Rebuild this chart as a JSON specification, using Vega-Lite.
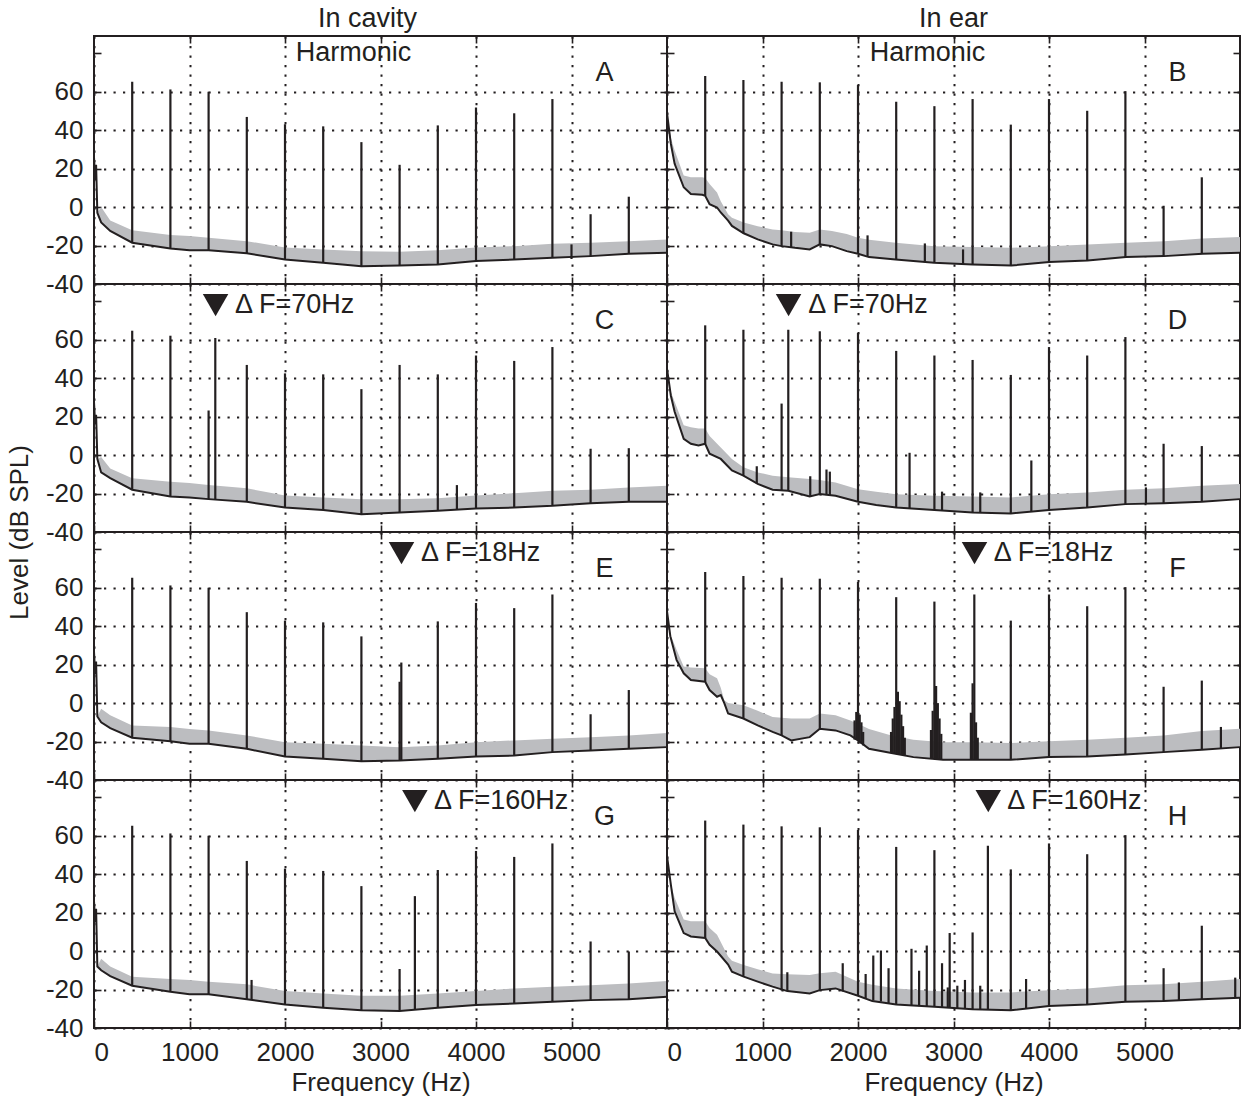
{
"$schema":"https://vega.github.io/schema/vega-lite/v6.json",
"padding":{"left":5,"top":4,"right":3,"bottom":3},
"background":"white",
"config":{
 "view":{"stroke":"#231f20","strokeWidth":2},
 "font":"Liberation Sans",
 "axis":{"labelFont":"Liberation Sans","labelFontSize":26,"labelColor":"#231f20","tickColor":"#231f20","tickWidth":1.6,"tickSize":-7,"domain":false,"labelPadding":18,"titleFont":"Liberation Sans","titleFontSize":26,"titleFontWeight":"normal","titleColor":"#231f20","gridColor":"#231f20","gridDash":[2.2,7.3],"gridWidth":2,"gridOpacity":1},
 "title":{"font":"Liberation Sans","fontSize":27,"fontWeight":"normal","color":"#231f20"}
},
"datasets":{
 "floor":[
  {"p":"A","f":0,"db":26,"hi":26},{"p":"A","f":12,"db":14,"hi":14},{"p":"A","f":22,"db":22,"hi":22},{"p":"A","f":35,"db":-3,"hi":-3},{"p":"A","f":75,"db":-8,"hi":0},{"p":"A","f":170,"db":-12.4,"hi":-7},{"p":"A","f":400,"db":-18.5,"hi":-12},{"p":"A","f":800,"db":-21.5,"hi":-14.5},{"p":"A","f":1000,"db":-22.5,"hi":-15},{"p":"A","f":1200,"db":-22.5,"hi":-16},{"p":"A","f":1600,"db":-24,"hi":-17.7},{"p":"A","f":2000,"db":-27.3,"hi":-21},{"p":"A","f":2400,"db":-29,"hi":-22},{"p":"A","f":2800,"db":-30.8,"hi":-22.9},{"p":"A","f":3200,"db":-30.4,"hi":-23.2},{"p":"A","f":3600,"db":-29.9,"hi":-22.5},{"p":"A","f":4000,"db":-28.1,"hi":-21},{"p":"A","f":4400,"db":-27.3,"hi":-20.3},{"p":"A","f":4800,"db":-26.4,"hi":-19},{"p":"A","f":5200,"db":-25.5,"hi":-18.5},{"p":"A","f":5600,"db":-24.3,"hi":-17.7},{"p":"A","f":6000,"db":-23.8,"hi":-16.8},
  {"p":"B","f":0,"db":49,"hi":49},{"p":"B","f":40,"db":33,"hi":36},{"p":"B","f":80,"db":22.5,"hi":29.5},{"p":"B","f":175,"db":10.3,"hi":16.4},{"p":"B","f":250,"db":6.8,"hi":15.5},{"p":"B","f":370,"db":6.4,"hi":15.5},{"p":"B","f":400,"db":5.9,"hi":15.2},{"p":"B","f":446,"db":1.5,"hi":12},{"p":"B","f":524,"db":-0.2,"hi":7.6},{"p":"B","f":563,"db":-2.8,"hi":3},{"p":"B","f":640,"db":-7,"hi":-3.7},{"p":"B","f":680,"db":-9.8,"hi":-5.5},{"p":"B","f":803,"db":-13.6,"hi":-8},{"p":"B","f":950,"db":-16.8,"hi":-10},{"p":"B","f":1106,"db":-19.4,"hi":-11.6},{"p":"B","f":1200,"db":-20.3,"hi":-12},{"p":"B","f":1340,"db":-21.2,"hi":-13},{"p":"B","f":1494,"db":-22,"hi":-13.3},{"p":"B","f":1600,"db":-19.4,"hi":-11.6},{"p":"B","f":1727,"db":-20.3,"hi":-12.4},{"p":"B","f":1882,"db":-22.9,"hi":-14},{"p":"B","f":2000,"db":-24.3,"hi":-16},{"p":"B","f":2115,"db":-26,"hi":-17},{"p":"B","f":2394,"db":-27.3,"hi":-18.5},{"p":"B","f":2797,"db":-29,"hi":-20.3},{"p":"B","f":3200,"db":-29.9,"hi":-20.8},{"p":"B","f":3605,"db":-30.4,"hi":-21.2},{"p":"B","f":4004,"db":-28.5,"hi":-20.3},{"p":"B","f":4404,"db":-27.8,"hi":-19.4},{"p":"B","f":4807,"db":-26,"hi":-18.5},{"p":"B","f":5207,"db":-25.5,"hi":-17.7},{"p":"B","f":5607,"db":-24.3,"hi":-16.3},{"p":"B","f":6000,"db":-23.8,"hi":-15.6},
  {"p":"C","f":0,"db":27.7,"hi":27.7},{"p":"C","f":12,"db":16,"hi":16},{"p":"C","f":22,"db":21,"hi":21},{"p":"C","f":35,"db":-2,"hi":-2},{"p":"C","f":75,"db":-9,"hi":-1},{"p":"C","f":170,"db":-12,"hi":-7},{"p":"C","f":400,"db":-18,"hi":-12},{"p":"C","f":800,"db":-21.5,"hi":-13.8},{"p":"C","f":1000,"db":-22,"hi":-14.5},{"p":"C","f":1200,"db":-22.9,"hi":-15.5},{"p":"C","f":1600,"db":-24.3,"hi":-17.3},{"p":"C","f":2000,"db":-27.3,"hi":-21},{"p":"C","f":2400,"db":-28.5,"hi":-22},{"p":"C","f":2800,"db":-30.8,"hi":-22.9},{"p":"C","f":3200,"db":-29.9,"hi":-22.9},{"p":"C","f":3600,"db":-29,"hi":-22.5},{"p":"C","f":4000,"db":-27.8,"hi":-21},{"p":"C","f":4400,"db":-27.3,"hi":-19.8},{"p":"C","f":4800,"db":-26.4,"hi":-18.5},{"p":"C","f":5200,"db":-25,"hi":-18},{"p":"C","f":5600,"db":-24.3,"hi":-16.8},{"p":"C","f":6000,"db":-24.3,"hi":-16},
  {"p":"D","f":0,"db":45,"hi":45},{"p":"D","f":40,"db":31,"hi":33},{"p":"D","f":80,"db":22.5,"hi":27.7},{"p":"D","f":175,"db":8.5,"hi":15.5},{"p":"D","f":250,"db":5.9,"hi":14.5},{"p":"D","f":330,"db":5,"hi":13.8},{"p":"D","f":400,"db":5.9,"hi":13.8},{"p":"D","f":446,"db":0.7,"hi":10},{"p":"D","f":563,"db":-2,"hi":4},{"p":"D","f":680,"db":-8,"hi":-2},{"p":"D","f":800,"db":-10.7,"hi":-6.3},{"p":"D","f":950,"db":-15,"hi":-9},{"p":"D","f":1106,"db":-18,"hi":-10.7},{"p":"D","f":1270,"db":-18.5,"hi":-11.5},{"p":"D","f":1494,"db":-21.5,"hi":-12.4},{"p":"D","f":1600,"db":-20.3,"hi":-13},{"p":"D","f":1765,"db":-21.2,"hi":-14.2},{"p":"D","f":2000,"db":-24.3,"hi":-17.7},{"p":"D","f":2190,"db":-26,"hi":-19},{"p":"D","f":2400,"db":-27.3,"hi":-20.3},{"p":"D","f":2800,"db":-28.5,"hi":-21.2},{"p":"D","f":3200,"db":-29.9,"hi":-21.5},{"p":"D","f":3600,"db":-30.4,"hi":-22},{"p":"D","f":4000,"db":-28.5,"hi":-20.3},{"p":"D","f":4400,"db":-27.3,"hi":-19.4},{"p":"D","f":4800,"db":-25.5,"hi":-18},{"p":"D","f":5200,"db":-25,"hi":-17.3},{"p":"D","f":5600,"db":-24.3,"hi":-16},{"p":"D","f":6000,"db":-22.9,"hi":-15},
  {"p":"E","f":0,"db":26.8,"hi":26.8},{"p":"E","f":12,"db":15,"hi":15},{"p":"E","f":22,"db":21.6,"hi":21.6},{"p":"E","f":35,"db":-7,"hi":-7},{"p":"E","f":75,"db":-10,"hi":-3},{"p":"E","f":170,"db":-13,"hi":-6.3},{"p":"E","f":400,"db":-18,"hi":-11.6},{"p":"E","f":800,"db":-19.8,"hi":-12.4},{"p":"E","f":1000,"db":-21.2,"hi":-13.5},{"p":"E","f":1200,"db":-21.2,"hi":-14.2},{"p":"E","f":1600,"db":-23.8,"hi":-16.8},{"p":"E","f":2000,"db":-27.8,"hi":-20.3},{"p":"E","f":2400,"db":-29,"hi":-21.2},{"p":"E","f":2800,"db":-30.2,"hi":-22},{"p":"E","f":3200,"db":-29.9,"hi":-22.9},{"p":"E","f":3600,"db":-29,"hi":-22},{"p":"E","f":4000,"db":-27.8,"hi":-20.3},{"p":"E","f":4400,"db":-27.3,"hi":-19.4},{"p":"E","f":4800,"db":-25.5,"hi":-18.5},{"p":"E","f":5200,"db":-24.6,"hi":-17.7},{"p":"E","f":5600,"db":-23.8,"hi":-16.8},{"p":"E","f":6000,"db":-22.9,"hi":-15.6},
  {"p":"F","f":0,"db":47.8,"hi":47.8},{"p":"F","f":35,"db":34.7,"hi":36},{"p":"F","f":100,"db":22.5,"hi":27.7},{"p":"F","f":175,"db":15.5,"hi":19},{"p":"F","f":250,"db":12,"hi":18.5},{"p":"F","f":400,"db":11.1,"hi":18.1},{"p":"F","f":446,"db":6.8,"hi":15},{"p":"F","f":524,"db":3.3,"hi":12.9},{"p":"F","f":563,"db":4.2,"hi":8},{"p":"F","f":600,"db":0,"hi":1.5},{"p":"F","f":640,"db":-5.4,"hi":0},{"p":"F","f":800,"db":-8,"hi":-1.1},{"p":"F","f":950,"db":-11.6,"hi":-4},{"p":"F","f":1106,"db":-15,"hi":-7.2},{"p":"F","f":1200,"db":-16.8,"hi":-7.6},{"p":"F","f":1300,"db":-19.4,"hi":-8},{"p":"F","f":1494,"db":-17.7,"hi":-8},{"p":"F","f":1600,"db":-13.3,"hi":-5.4},{"p":"F","f":1765,"db":-14.2,"hi":-6.3},{"p":"F","f":1920,"db":-16.8,"hi":-9},{"p":"F","f":2000,"db":-19.4,"hi":-10.7},{"p":"F","f":2115,"db":-23.8,"hi":-13.5},{"p":"F","f":2350,"db":-26,"hi":-16.8},{"p":"F","f":2580,"db":-28.1,"hi":-19},{"p":"F","f":2890,"db":-29.5,"hi":-20.3},{"p":"F","f":3200,"db":-29.5,"hi":-20.3},{"p":"F","f":3600,"db":-29.5,"hi":-20.8},{"p":"F","f":4000,"db":-28.1,"hi":-19.8},{"p":"F","f":4400,"db":-27.8,"hi":-19},{"p":"F","f":4800,"db":-26.7,"hi":-18},{"p":"F","f":5200,"db":-25.5,"hi":-16.8},{"p":"F","f":5600,"db":-24.3,"hi":-14.5},{"p":"F","f":6000,"db":-22.9,"hi":-13.3},
  {"p":"G","f":0,"db":26,"hi":26},{"p":"G","f":12,"db":15,"hi":15},{"p":"G","f":22,"db":22,"hi":22},{"p":"G","f":35,"db":-8,"hi":-8},{"p":"G","f":75,"db":-10,"hi":-4},{"p":"G","f":170,"db":-13,"hi":-8},{"p":"G","f":400,"db":-18,"hi":-13.3},{"p":"G","f":800,"db":-21.2,"hi":-14.5},{"p":"G","f":1000,"db":-22.5,"hi":-15},{"p":"G","f":1200,"db":-22.5,"hi":-16},{"p":"G","f":1600,"db":-25,"hi":-17.3},{"p":"G","f":2000,"db":-27.8,"hi":-20.8},{"p":"G","f":2400,"db":-29.5,"hi":-22},{"p":"G","f":2800,"db":-30.8,"hi":-23.2},{"p":"G","f":3200,"db":-31.1,"hi":-23.2},{"p":"G","f":3600,"db":-29.5,"hi":-22},{"p":"G","f":4000,"db":-28.1,"hi":-20.8},{"p":"G","f":4400,"db":-27.3,"hi":-19.4},{"p":"G","f":4800,"db":-26.4,"hi":-18.5},{"p":"G","f":5200,"db":-25.5,"hi":-17.7},{"p":"G","f":5600,"db":-25,"hi":-16.8},{"p":"G","f":6000,"db":-23.8,"hi":-15.6},
  {"p":"H","f":0,"db":49.5,"hi":49.5},{"p":"H","f":40,"db":34.7,"hi":35},{"p":"H","f":80,"db":20.7,"hi":27.7},{"p":"H","f":175,"db":9.4,"hi":16.4},{"p":"H","f":250,"db":7.6,"hi":15.5},{"p":"H","f":400,"db":6.8,"hi":15.5},{"p":"H","f":446,"db":3.3,"hi":12},{"p":"H","f":524,"db":-0.2,"hi":8.5},{"p":"H","f":640,"db":-7,"hi":-2.8},{"p":"H","f":680,"db":-10.7,"hi":-5},{"p":"H","f":803,"db":-13.3,"hi":-7.2},{"p":"H","f":950,"db":-15.9,"hi":-9.5},{"p":"H","f":1106,"db":-18.5,"hi":-11.6},{"p":"H","f":1260,"db":-20.8,"hi":-12},{"p":"H","f":1494,"db":-22,"hi":-12.4},{"p":"H","f":1600,"db":-20.3,"hi":-11.5},{"p":"H","f":1765,"db":-19.4,"hi":-10.7},{"p":"H","f":2000,"db":-23.2,"hi":-16},{"p":"H","f":2150,"db":-26,"hi":-17.5},{"p":"H","f":2400,"db":-27.8,"hi":-19.4},{"p":"H","f":2800,"db":-29,"hi":-20.8},{"p":"H","f":3200,"db":-30.2,"hi":-21.5},{"p":"H","f":3600,"db":-30.8,"hi":-21.5},{"p":"H","f":4000,"db":-28.5,"hi":-20.3},{"p":"H","f":4400,"db":-27.8,"hi":-19.4},{"p":"H","f":4800,"db":-26.4,"hi":-17.7},{"p":"H","f":5200,"db":-26,"hi":-17.3},{"p":"H","f":5600,"db":-25,"hi":-16},{"p":"H","f":6000,"db":-24.3,"hi":-14.5}
 ],
 "spikes":[
  {"p":"A","f":400,"db":65.2,"base":-18.5},{"p":"A","f":800,"db":61.2,"base":-21.5},{"p":"A","f":1200,"db":60,"base":-22.5},{"p":"A","f":1600,"db":46.9,"base":-24},{"p":"A","f":2000,"db":43.1,"base":-27.3},{"p":"A","f":2400,"db":42,"base":-29},{"p":"A","f":2800,"db":33.8,"base":-30.8},{"p":"A","f":3200,"db":22,"base":-30.4},{"p":"A","f":3600,"db":42.5,"base":-29.9},{"p":"A","f":4000,"db":51.8,"base":-28.1},{"p":"A","f":4400,"db":48.8,"base":-27.3},{"p":"A","f":4800,"db":56.2,"base":-26.4},{"p":"A","f":5000,"db":-19.4,"base":-27},{"p":"A","f":5200,"db":-3.7,"base":-25.5},{"p":"A","f":5600,"db":5.4,"base":-24.3},
  {"p":"B","f":400,"db":68.2,"base":5.9},{"p":"B","f":800,"db":66.1,"base":-13.6},{"p":"B","f":1200,"db":65.2,"base":-20.3},{"p":"B","f":1300,"db":-12.8,"base":-21},{"p":"B","f":1600,"db":64.9,"base":-19.4},{"p":"B","f":2000,"db":63.5,"base":-24.3},{"p":"B","f":2100,"db":-14.7,"base":-25.8},{"p":"B","f":2400,"db":54.8,"base":-27.3},{"p":"B","f":2700,"db":-18.9,"base":-28.6},{"p":"B","f":2800,"db":52.5,"base":-29},{"p":"B","f":3100,"db":-22,"base":-29.8},{"p":"B","f":3200,"db":56.2,"base":-29.9},{"p":"B","f":3600,"db":42.9,"base":-30.4},{"p":"B","f":4000,"db":56.2,"base":-28.5},{"p":"B","f":4400,"db":50.1,"base":-27.8},{"p":"B","f":4800,"db":60.3,"base":-26},{"p":"B","f":5200,"db":0.7,"base":-25.5},{"p":"B","f":5600,"db":15.5,"base":-24.3},
  {"p":"C","f":400,"db":64.7,"base":-18},{"p":"C","f":800,"db":62.1,"base":-21.5},{"p":"C","f":1200,"db":23.2,"base":-22.9},{"p":"C","f":1270,"db":60.9,"base":-23},{"p":"C","f":1600,"db":46.9,"base":-24.3},{"p":"C","f":2000,"db":42.5,"base":-27.3},{"p":"C","f":2400,"db":42,"base":-28.5},{"p":"C","f":2800,"db":34.3,"base":-30.8},{"p":"C","f":3200,"db":46.9,"base":-29.9},{"p":"C","f":3600,"db":42,"base":-29},{"p":"C","f":3800,"db":-15.6,"base":-28.5},{"p":"C","f":4000,"db":51.8,"base":-27.8},{"p":"C","f":4400,"db":49,"base":-27.3},{"p":"C","f":4800,"db":56.2,"base":-26.4},{"p":"C","f":5200,"db":3.3,"base":-25},{"p":"C","f":5600,"db":3.6,"base":-24.3},
  {"p":"D","f":400,"db":67.5,"base":5.9},{"p":"D","f":800,"db":65.2,"base":-10.7},{"p":"D","f":940,"db":-5.8,"base":-14.8},{"p":"D","f":1200,"db":26.8,"base":-18.3},{"p":"D","f":1270,"db":65.2,"base":-18.5},{"p":"D","f":1500,"db":-11,"base":-21.5},{"p":"D","f":1600,"db":64.4,"base":-20.3},{"p":"D","f":1670,"db":-7.5,"base":-20.8},{"p":"D","f":1705,"db":-8.6,"base":-21},{"p":"D","f":2000,"db":63.5,"base":-24.3},{"p":"D","f":2400,"db":54.2,"base":-27.3},{"p":"D","f":2540,"db":1.2,"base":-27.6},{"p":"D","f":2800,"db":51.8,"base":-28.5},{"p":"D","f":2880,"db":-19,"base":-28.7},{"p":"D","f":3200,"db":49.5,"base":-29.9},{"p":"D","f":3280,"db":-19.4,"base":-30},{"p":"D","f":3600,"db":41.7,"base":-30.4},{"p":"D","f":3815,"db":-2.8,"base":-29.5},{"p":"D","f":4000,"db":56.2,"base":-28.5},{"p":"D","f":4400,"db":51.8,"base":-27.3},{"p":"D","f":4800,"db":61.4,"base":-25.5},{"p":"D","f":5015,"db":-16.8,"base":-25.3},{"p":"D","f":5200,"db":5.9,"base":-25},{"p":"D","f":5600,"db":4.7,"base":-24.3},
  {"p":"E","f":400,"db":65.2,"base":-18},{"p":"E","f":800,"db":61.2,"base":-19.8},{"p":"E","f":1200,"db":60,"base":-21.2},{"p":"E","f":1600,"db":47.3,"base":-23.8},{"p":"E","f":2000,"db":42.9,"base":-27.8},{"p":"E","f":2400,"db":42,"base":-29},{"p":"E","f":2800,"db":34.7,"base":-30.2},{"p":"E","f":3200,"db":11.1,"base":-29.9},{"p":"E","f":3218,"db":21.1,"base":-29.9},{"p":"E","f":3600,"db":42.5,"base":-29},{"p":"E","f":4000,"db":52.1,"base":-27.8},{"p":"E","f":4400,"db":49.4,"base":-27.3},{"p":"E","f":4800,"db":56.5,"base":-25.5},{"p":"E","f":5200,"db":-5.8,"base":-24.6},{"p":"E","f":5600,"db":6.8,"base":-23.8},
  {"p":"F","f":400,"db":68.2,"base":11.1},{"p":"F","f":800,"db":66.1,"base":-8},{"p":"F","f":1200,"db":65.2,"base":-16.8},{"p":"F","f":1600,"db":64.7,"base":-13.3},{"p":"F","f":1964,"db":-9,"base":-19},{"p":"F","f":1982,"db":-4.6,"base":-19.2},{"p":"F","f":2000,"db":63,"base":-19.4},{"p":"F","f":2018,"db":-6,"base":-20},{"p":"F","f":2036,"db":-10,"base":-21},{"p":"F","f":2054,"db":-15,"base":-22},{"p":"F","f":2346,"db":-15,"base":-26},{"p":"F","f":2364,"db":-8,"base":-26.2},{"p":"F","f":2382,"db":-2,"base":-26.4},{"p":"F","f":2400,"db":55.1,"base":-26.5},{"p":"F","f":2418,"db":5.9,"base":-26.7},{"p":"F","f":2436,"db":1,"base":-26.9},{"p":"F","f":2454,"db":-6,"base":-27},{"p":"F","f":2472,"db":-12,"base":-27.2},{"p":"F","f":2490,"db":-18,"base":-27.4},{"p":"F","f":2764,"db":-14,"base":-28.9},{"p":"F","f":2782,"db":-4,"base":-29},{"p":"F","f":2800,"db":52.8,"base":-29},{"p":"F","f":2818,"db":8.9,"base":-29.1},{"p":"F","f":2836,"db":0,"base":-29.2},{"p":"F","f":2854,"db":-8,"base":-29.3},{"p":"F","f":2872,"db":-16,"base":-29.4},{"p":"F","f":3182,"db":-5,"base":-29.5},{"p":"F","f":3200,"db":10.3,"base":-29.5},{"p":"F","f":3218,"db":56.5,"base":-29.5},{"p":"F","f":3236,"db":-10,"base":-29.5},{"p":"F","f":3254,"db":-18,"base":-29.5},{"p":"F","f":3600,"db":42.9,"base":-29.5},{"p":"F","f":4000,"db":56.5,"base":-28.1},{"p":"F","f":4400,"db":50.4,"base":-27.8},{"p":"F","f":4800,"db":60.3,"base":-26.7},{"p":"F","f":5200,"db":8.5,"base":-25.5},{"p":"F","f":5600,"db":11.7,"base":-24.3},{"p":"F","f":5800,"db":-12.4,"base":-23.6},
  {"p":"G","f":400,"db":65.2,"base":-18},{"p":"G","f":800,"db":61.2,"base":-21.2},{"p":"G","f":1200,"db":60,"base":-22.5},{"p":"G","f":1600,"db":46.9,"base":-25},{"p":"G","f":1650,"db":-15,"base":-25.2},{"p":"G","f":2000,"db":42.9,"base":-27.8},{"p":"G","f":2400,"db":41.7,"base":-29.5},{"p":"G","f":2800,"db":33.8,"base":-30.8},{"p":"G","f":3200,"db":-9.3,"base":-31.1},{"p":"G","f":3360,"db":28.6,"base":-30.6},{"p":"G","f":3600,"db":42.2,"base":-29.5},{"p":"G","f":4000,"db":52.1,"base":-28.1},{"p":"G","f":4400,"db":49,"base":-27.3},{"p":"G","f":4800,"db":56,"base":-26.4},{"p":"G","f":5200,"db":5,"base":-25.5},{"p":"G","f":5600,"db":-0.2,"base":-25},
  {"p":"H","f":400,"db":67.9,"base":6.8},{"p":"H","f":800,"db":65.8,"base":-13.3},{"p":"H","f":1200,"db":64.9,"base":-20.5},{"p":"H","f":1260,"db":-11,"base":-20.8},{"p":"H","f":1600,"db":64.4,"base":-20.3},{"p":"H","f":1840,"db":-6.3,"base":-21},{"p":"H","f":2000,"db":63,"base":-23.2},{"p":"H","f":2080,"db":-11.9,"base":-24.5},{"p":"H","f":2160,"db":-2.3,"base":-25.5},{"p":"H","f":2240,"db":0.3,"base":-26.2},{"p":"H","f":2320,"db":-8.9,"base":-27},{"p":"H","f":2400,"db":54.2,"base":-27.8},{"p":"H","f":2560,"db":1.2,"base":-28.3},{"p":"H","f":2640,"db":-10.2,"base":-28.6},{"p":"H","f":2720,"db":2.9,"base":-28.8},{"p":"H","f":2800,"db":52.5,"base":-29},{"p":"H","f":2880,"db":-6.3,"base":-29.3},{"p":"H","f":2940,"db":-18.9,"base":-29.5},{"p":"H","f":2960,"db":9.4,"base":-29.6},{"p":"H","f":3040,"db":-18,"base":-29.8},{"p":"H","f":3120,"db":-15,"base":-30},{"p":"H","f":3200,"db":9.7,"base":-30.2},{"p":"H","f":3280,"db":-18,"base":-30.4},{"p":"H","f":3360,"db":54.8,"base":-30.5},{"p":"H","f":3600,"db":42.5,"base":-30.8},{"p":"H","f":3760,"db":-14.5,"base":-30},{"p":"H","f":4000,"db":56,"base":-28.5},{"p":"H","f":4400,"db":50.4,"base":-27.8},{"p":"H","f":4800,"db":60.3,"base":-26.4},{"p":"H","f":5200,"db":-8.9,"base":-26},{"p":"H","f":5360,"db":-16.3,"base":-25.6},{"p":"H","f":5600,"db":13.2,"base":-25},{"p":"H","f":5950,"db":-13.8,"base":-24.4}
 ],
 "notes":[
  {"p":"A","f":2717,"db":80,"txt":"Harmonic"},{"p":"B","f":2727,"db":80,"txt":"Harmonic"},
  {"p":"A","f":5345,"db":70,"txt":"A"},{"p":"B","f":5345,"db":70,"txt":"B"},{"p":"C","f":5345,"db":70,"txt":"C"},{"p":"D","f":5345,"db":70,"txt":"D"},{"p":"E","f":5345,"db":70,"txt":"E"},{"p":"F","f":5345,"db":70,"txt":"F"},{"p":"G","f":5345,"db":70,"txt":"G"},{"p":"H","f":5345,"db":70,"txt":"H"}
 ],
 "shift":[
  {"p":"C","f":1273,"tf":1476,"db":78,"txt":"Δ F=70Hz"},{"p":"D","f":1273,"tf":1480,"db":78,"txt":"Δ F=70Hz"},
  {"p":"E","f":3220,"tf":3423,"db":78,"txt":"Δ F=18Hz"},{"p":"F","f":3220,"tf":3422,"db":78,"txt":"Δ F=18Hz"},
  {"p":"G","f":3360,"tf":3559,"db":78,"txt":"Δ F=160Hz"},{"p":"H","f":3364,"tf":3562,"db":78,"txt":"Δ F=160Hz"}
 ]
},
"columns":2,
"spacing":0,
"bounds":"flush",
"concat":[
  {"width":573,"height":248,"title":{"text":"In cavity","dx":-13,"offset":2},
   "layer":[
    {"data":{"name":"floor"},"transform":[{"filter":"datum.p==='A'"}],"mark":{"type":"area","color":"#bcbdc0"},"encoding":{"x":{"field":"f","type":"quantitative","scale":{"domain":[0,6000],"nice":false,"zero":false},"axis":{"orient":"bottom","values":[0,1000,2000,3000,4000,5000],"grid":true,"labels":false,"title":null}},"y":{"field":"db","type":"quantitative","scale":{"domain":[-40,89],"nice":false,"zero":false},"axis":{"orient":"left","values":[-40,-20,0,20,40,60,80],"grid":true,"gridOpacity":{"condition":{"test":"datum.value>=80","value":0},"value":1},"labelExpr":"datum.value>=80?'':''+datum.value","title":null}},"y2":{"field":"hi"}}},
    {"data":{"name":"floor"},"transform":[{"filter":"datum.p==='A'"}],"mark":{"type":"line","color":"#231f20","strokeWidth":2},"encoding":{"x":{"field":"f","type":"quantitative","axis":{"orient":"top","values":[1000,2000,3000,4000,5000],"grid":false,"labels":false,"title":null}},"y":{"field":"db","type":"quantitative","axis":{"orient":"right","values":[-20,0,20,40,60,80],"grid":false,"labels":false,"title":null}}}},
    {"data":{"name":"spikes"},"transform":[{"filter":"datum.p==='A'"}],"mark":{"type":"rule","color":"#231f20","strokeWidth":2.2},"encoding":{"x":{"field":"f","type":"quantitative","axis":null},"y":{"field":"db","type":"quantitative","axis":null},"y2":{"field":"base"}}},
    {"data":{"name":"notes"},"transform":[{"filter":"datum.p==='A'"}],"mark":{"type":"text","fontSize":27,"color":"#231f20","baseline":"middle"},"encoding":{"x":{"field":"f","type":"quantitative","axis":null},"y":{"field":"db","type":"quantitative","axis":null},"text":{"field":"txt"}}}
   ],
   "resolve":{"axis":{"x":"independent","y":"independent"}}},
  {"width":573,"height":248,"title":{"text":"In ear","offset":2},
   "layer":[
    {"data":{"name":"floor"},"transform":[{"filter":"datum.p==='B'"}],"mark":{"type":"area","color":"#bcbdc0"},"encoding":{"x":{"field":"f","type":"quantitative","scale":{"domain":[0,6000],"nice":false,"zero":false},"axis":{"orient":"bottom","values":[0,1000,2000,3000,4000,5000],"grid":true,"labels":false,"title":null}},"y":{"field":"db","type":"quantitative","scale":{"domain":[-40,89],"nice":false,"zero":false},"axis":{"orient":"left","values":[-40,-20,0,20,40,60,80],"grid":true,"gridOpacity":{"condition":{"test":"datum.value>=80","value":0},"value":1},"labels":false,"title":null}},"y2":{"field":"hi"}}},
    {"data":{"name":"floor"},"transform":[{"filter":"datum.p==='B'"}],"mark":{"type":"line","color":"#231f20","strokeWidth":2},"encoding":{"x":{"field":"f","type":"quantitative","axis":{"orient":"top","values":[1000,2000,3000,4000,5000],"grid":false,"labels":false,"title":null}},"y":{"field":"db","type":"quantitative","axis":{"orient":"right","values":[-20,0,20,40,60,80],"grid":false,"labels":false,"title":null}}}},
    {"data":{"name":"spikes"},"transform":[{"filter":"datum.p==='B'"}],"mark":{"type":"rule","color":"#231f20","strokeWidth":2.2},"encoding":{"x":{"field":"f","type":"quantitative","axis":null},"y":{"field":"db","type":"quantitative","axis":null},"y2":{"field":"base"}}},
    {"data":{"name":"notes"},"transform":[{"filter":"datum.p==='B'"}],"mark":{"type":"text","fontSize":27,"color":"#231f20","baseline":"middle"},"encoding":{"x":{"field":"f","type":"quantitative","axis":null},"y":{"field":"db","type":"quantitative","axis":null},"text":{"field":"txt"}}}
   ],
   "resolve":{"axis":{"x":"independent","y":"independent"}}},
  {"width":573,"height":248,
   "layer":[
    {"data":{"name":"floor"},"transform":[{"filter":"datum.p==='C'"}],"mark":{"type":"area","color":"#bcbdc0"},"encoding":{"x":{"field":"f","type":"quantitative","scale":{"domain":[0,6000],"nice":false,"zero":false},"axis":{"orient":"bottom","values":[0,1000,2000,3000,4000,5000],"grid":true,"labels":false,"title":null}},"y":{"field":"db","type":"quantitative","scale":{"domain":[-40,89],"nice":false,"zero":false},"axis":{"orient":"left","values":[-40,-20,0,20,40,60,80],"grid":true,"gridOpacity":{"condition":{"test":"datum.value>=80","value":0},"value":1},"labelExpr":"datum.value>=80?'':''+datum.value","title":"Level (dB SPL)","titleX":-62,"titleY":248}},"y2":{"field":"hi"}}},
    {"data":{"name":"floor"},"transform":[{"filter":"datum.p==='C'"}],"mark":{"type":"line","color":"#231f20","strokeWidth":2},"encoding":{"x":{"field":"f","type":"quantitative","axis":{"orient":"top","values":[1000,2000,3000,4000,5000],"grid":false,"labels":false,"title":null}},"y":{"field":"db","type":"quantitative","axis":{"orient":"right","values":[-20,0,20,40,60,80],"grid":false,"labels":false,"title":null}}}},
    {"data":{"name":"spikes"},"transform":[{"filter":"datum.p==='C'"}],"mark":{"type":"rule","color":"#231f20","strokeWidth":2.2},"encoding":{"x":{"field":"f","type":"quantitative","axis":null},"y":{"field":"db","type":"quantitative","axis":null},"y2":{"field":"base"}}},
    {"data":{"name":"notes"},"transform":[{"filter":"datum.p==='C'"}],"mark":{"type":"text","fontSize":27,"color":"#231f20","baseline":"middle"},"encoding":{"x":{"field":"f","type":"quantitative","axis":null},"y":{"field":"db","type":"quantitative","axis":null},"text":{"field":"txt"}}},
    {"data":{"name":"shift"},"transform":[{"filter":"datum.p==='C'"}],"mark":{"type":"point","shape":"triangle-down","filled":true,"size":650,"color":"#231f20","opacity":1},"encoding":{"x":{"field":"f","type":"quantitative","axis":null},"y":{"field":"db","type":"quantitative","axis":null}}},
    {"data":{"name":"shift"},"transform":[{"filter":"datum.p==='C'"}],"mark":{"type":"text","fontSize":27,"color":"#231f20","align":"left","baseline":"middle"},"encoding":{"x":{"field":"tf","type":"quantitative","axis":null},"y":{"field":"db","type":"quantitative","axis":null},"text":{"field":"txt"}}}
   ],
   "resolve":{"axis":{"x":"independent","y":"independent"}}},
  {"width":573,"height":248,
   "layer":[
    {"data":{"name":"floor"},"transform":[{"filter":"datum.p==='D'"}],"mark":{"type":"area","color":"#bcbdc0"},"encoding":{"x":{"field":"f","type":"quantitative","scale":{"domain":[0,6000],"nice":false,"zero":false},"axis":{"orient":"bottom","values":[0,1000,2000,3000,4000,5000],"grid":true,"labels":false,"title":null}},"y":{"field":"db","type":"quantitative","scale":{"domain":[-40,89],"nice":false,"zero":false},"axis":{"orient":"left","values":[-40,-20,0,20,40,60,80],"grid":true,"gridOpacity":{"condition":{"test":"datum.value>=80","value":0},"value":1},"labels":false,"title":null}},"y2":{"field":"hi"}}},
    {"data":{"name":"floor"},"transform":[{"filter":"datum.p==='D'"}],"mark":{"type":"line","color":"#231f20","strokeWidth":2},"encoding":{"x":{"field":"f","type":"quantitative","axis":{"orient":"top","values":[1000,2000,3000,4000,5000],"grid":false,"labels":false,"title":null}},"y":{"field":"db","type":"quantitative","axis":{"orient":"right","values":[-20,0,20,40,60,80],"grid":false,"labels":false,"title":null}}}},
    {"data":{"name":"spikes"},"transform":[{"filter":"datum.p==='D'"}],"mark":{"type":"rule","color":"#231f20","strokeWidth":2.2},"encoding":{"x":{"field":"f","type":"quantitative","axis":null},"y":{"field":"db","type":"quantitative","axis":null},"y2":{"field":"base"}}},
    {"data":{"name":"notes"},"transform":[{"filter":"datum.p==='D'"}],"mark":{"type":"text","fontSize":27,"color":"#231f20","baseline":"middle"},"encoding":{"x":{"field":"f","type":"quantitative","axis":null},"y":{"field":"db","type":"quantitative","axis":null},"text":{"field":"txt"}}},
    {"data":{"name":"shift"},"transform":[{"filter":"datum.p==='D'"}],"mark":{"type":"point","shape":"triangle-down","filled":true,"size":650,"color":"#231f20","opacity":1},"encoding":{"x":{"field":"f","type":"quantitative","axis":null},"y":{"field":"db","type":"quantitative","axis":null}}},
    {"data":{"name":"shift"},"transform":[{"filter":"datum.p==='D'"}],"mark":{"type":"text","fontSize":27,"color":"#231f20","align":"left","baseline":"middle"},"encoding":{"x":{"field":"tf","type":"quantitative","axis":null},"y":{"field":"db","type":"quantitative","axis":null},"text":{"field":"txt"}}}
   ],
   "resolve":{"axis":{"x":"independent","y":"independent"}}},
  {"width":573,"height":248,
   "layer":[
    {"data":{"name":"floor"},"transform":[{"filter":"datum.p==='E'"}],"mark":{"type":"area","color":"#bcbdc0"},"encoding":{"x":{"field":"f","type":"quantitative","scale":{"domain":[0,6000],"nice":false,"zero":false},"axis":{"orient":"bottom","values":[0,1000,2000,3000,4000,5000],"grid":true,"labels":false,"title":null}},"y":{"field":"db","type":"quantitative","scale":{"domain":[-40,89],"nice":false,"zero":false},"axis":{"orient":"left","values":[-40,-20,0,20,40,60,80],"grid":true,"gridOpacity":{"condition":{"test":"datum.value>=80","value":0},"value":1},"labelExpr":"datum.value>=80?'':''+datum.value","title":null}},"y2":{"field":"hi"}}},
    {"data":{"name":"floor"},"transform":[{"filter":"datum.p==='E'"}],"mark":{"type":"line","color":"#231f20","strokeWidth":2},"encoding":{"x":{"field":"f","type":"quantitative","axis":{"orient":"top","values":[1000,2000,3000,4000,5000],"grid":false,"labels":false,"title":null}},"y":{"field":"db","type":"quantitative","axis":{"orient":"right","values":[-20,0,20,40,60,80],"grid":false,"labels":false,"title":null}}}},
    {"data":{"name":"spikes"},"transform":[{"filter":"datum.p==='E'"}],"mark":{"type":"rule","color":"#231f20","strokeWidth":2.2},"encoding":{"x":{"field":"f","type":"quantitative","axis":null},"y":{"field":"db","type":"quantitative","axis":null},"y2":{"field":"base"}}},
    {"data":{"name":"notes"},"transform":[{"filter":"datum.p==='E'"}],"mark":{"type":"text","fontSize":27,"color":"#231f20","baseline":"middle"},"encoding":{"x":{"field":"f","type":"quantitative","axis":null},"y":{"field":"db","type":"quantitative","axis":null},"text":{"field":"txt"}}},
    {"data":{"name":"shift"},"transform":[{"filter":"datum.p==='E'"}],"mark":{"type":"point","shape":"triangle-down","filled":true,"size":650,"color":"#231f20","opacity":1},"encoding":{"x":{"field":"f","type":"quantitative","axis":null},"y":{"field":"db","type":"quantitative","axis":null}}},
    {"data":{"name":"shift"},"transform":[{"filter":"datum.p==='E'"}],"mark":{"type":"text","fontSize":27,"color":"#231f20","align":"left","baseline":"middle"},"encoding":{"x":{"field":"tf","type":"quantitative","axis":null},"y":{"field":"db","type":"quantitative","axis":null},"text":{"field":"txt"}}}
   ],
   "resolve":{"axis":{"x":"independent","y":"independent"}}},
  {"width":573,"height":248,
   "layer":[
    {"data":{"name":"floor"},"transform":[{"filter":"datum.p==='F'"}],"mark":{"type":"area","color":"#bcbdc0"},"encoding":{"x":{"field":"f","type":"quantitative","scale":{"domain":[0,6000],"nice":false,"zero":false},"axis":{"orient":"bottom","values":[0,1000,2000,3000,4000,5000],"grid":true,"labels":false,"title":null}},"y":{"field":"db","type":"quantitative","scale":{"domain":[-40,89],"nice":false,"zero":false},"axis":{"orient":"left","values":[-40,-20,0,20,40,60,80],"grid":true,"gridOpacity":{"condition":{"test":"datum.value>=80","value":0},"value":1},"labels":false,"title":null}},"y2":{"field":"hi"}}},
    {"data":{"name":"floor"},"transform":[{"filter":"datum.p==='F'"}],"mark":{"type":"line","color":"#231f20","strokeWidth":2},"encoding":{"x":{"field":"f","type":"quantitative","axis":{"orient":"top","values":[1000,2000,3000,4000,5000],"grid":false,"labels":false,"title":null}},"y":{"field":"db","type":"quantitative","axis":{"orient":"right","values":[-20,0,20,40,60,80],"grid":false,"labels":false,"title":null}}}},
    {"data":{"name":"spikes"},"transform":[{"filter":"datum.p==='F'"}],"mark":{"type":"rule","color":"#231f20","strokeWidth":2.2},"encoding":{"x":{"field":"f","type":"quantitative","axis":null},"y":{"field":"db","type":"quantitative","axis":null},"y2":{"field":"base"}}},
    {"data":{"name":"notes"},"transform":[{"filter":"datum.p==='F'"}],"mark":{"type":"text","fontSize":27,"color":"#231f20","baseline":"middle"},"encoding":{"x":{"field":"f","type":"quantitative","axis":null},"y":{"field":"db","type":"quantitative","axis":null},"text":{"field":"txt"}}},
    {"data":{"name":"shift"},"transform":[{"filter":"datum.p==='F'"}],"mark":{"type":"point","shape":"triangle-down","filled":true,"size":650,"color":"#231f20","opacity":1},"encoding":{"x":{"field":"f","type":"quantitative","axis":null},"y":{"field":"db","type":"quantitative","axis":null}}},
    {"data":{"name":"shift"},"transform":[{"filter":"datum.p==='F'"}],"mark":{"type":"text","fontSize":27,"color":"#231f20","align":"left","baseline":"middle"},"encoding":{"x":{"field":"tf","type":"quantitative","axis":null},"y":{"field":"db","type":"quantitative","axis":null},"text":{"field":"txt"}}}
   ],
   "resolve":{"axis":{"x":"independent","y":"independent"}}},
  {"width":573,"height":248,
   "layer":[
    {"data":{"name":"floor"},"transform":[{"filter":"datum.p==='G'"}],"mark":{"type":"area","color":"#bcbdc0"},"encoding":{"x":{"field":"f","type":"quantitative","scale":{"domain":[0,6000],"nice":false,"zero":false},"axis":{"orient":"bottom","values":[0,1000,2000,3000,4000,5000],"grid":true,"labelFlush":true,"format":"d","title":"Frequency (Hz)","titlePadding":4}},"y":{"field":"db","type":"quantitative","scale":{"domain":[-40,89],"nice":false,"zero":false},"axis":{"orient":"left","values":[-40,-20,0,20,40,60,80],"grid":true,"gridOpacity":{"condition":{"test":"datum.value>=80","value":0},"value":1},"labelExpr":"datum.value>=80?'':''+datum.value","title":null}},"y2":{"field":"hi"}}},
    {"data":{"name":"floor"},"transform":[{"filter":"datum.p==='G'"}],"mark":{"type":"line","color":"#231f20","strokeWidth":2},"encoding":{"x":{"field":"f","type":"quantitative","axis":{"orient":"top","values":[1000,2000,3000,4000,5000],"grid":false,"labels":false,"title":null}},"y":{"field":"db","type":"quantitative","axis":{"orient":"right","values":[-20,0,20,40,60,80],"grid":false,"labels":false,"title":null}}}},
    {"data":{"name":"spikes"},"transform":[{"filter":"datum.p==='G'"}],"mark":{"type":"rule","color":"#231f20","strokeWidth":2.2},"encoding":{"x":{"field":"f","type":"quantitative","axis":null},"y":{"field":"db","type":"quantitative","axis":null},"y2":{"field":"base"}}},
    {"data":{"name":"notes"},"transform":[{"filter":"datum.p==='G'"}],"mark":{"type":"text","fontSize":27,"color":"#231f20","baseline":"middle"},"encoding":{"x":{"field":"f","type":"quantitative","axis":null},"y":{"field":"db","type":"quantitative","axis":null},"text":{"field":"txt"}}},
    {"data":{"name":"shift"},"transform":[{"filter":"datum.p==='G'"}],"mark":{"type":"point","shape":"triangle-down","filled":true,"size":650,"color":"#231f20","opacity":1},"encoding":{"x":{"field":"f","type":"quantitative","axis":null},"y":{"field":"db","type":"quantitative","axis":null}}},
    {"data":{"name":"shift"},"transform":[{"filter":"datum.p==='G'"}],"mark":{"type":"text","fontSize":27,"color":"#231f20","align":"left","baseline":"middle"},"encoding":{"x":{"field":"tf","type":"quantitative","axis":null},"y":{"field":"db","type":"quantitative","axis":null},"text":{"field":"txt"}}}
   ],
   "resolve":{"axis":{"x":"independent","y":"independent"}}},
  {"width":573,"height":248,
   "layer":[
    {"data":{"name":"floor"},"transform":[{"filter":"datum.p==='H'"}],"mark":{"type":"area","color":"#bcbdc0"},"encoding":{"x":{"field":"f","type":"quantitative","scale":{"domain":[0,6000],"nice":false,"zero":false},"axis":{"orient":"bottom","values":[0,1000,2000,3000,4000,5000],"grid":true,"labelFlush":true,"format":"d","title":"Frequency (Hz)","titlePadding":4}},"y":{"field":"db","type":"quantitative","scale":{"domain":[-40,89],"nice":false,"zero":false},"axis":{"orient":"left","values":[-40,-20,0,20,40,60,80],"grid":true,"gridOpacity":{"condition":{"test":"datum.value>=80","value":0},"value":1},"labels":false,"title":null}},"y2":{"field":"hi"}}},
    {"data":{"name":"floor"},"transform":[{"filter":"datum.p==='H'"}],"mark":{"type":"line","color":"#231f20","strokeWidth":2},"encoding":{"x":{"field":"f","type":"quantitative","axis":{"orient":"top","values":[1000,2000,3000,4000,5000],"grid":false,"labels":false,"title":null}},"y":{"field":"db","type":"quantitative","axis":{"orient":"right","values":[-20,0,20,40,60,80],"grid":false,"labels":false,"title":null}}}},
    {"data":{"name":"spikes"},"transform":[{"filter":"datum.p==='H'"}],"mark":{"type":"rule","color":"#231f20","strokeWidth":2.2},"encoding":{"x":{"field":"f","type":"quantitative","axis":null},"y":{"field":"db","type":"quantitative","axis":null},"y2":{"field":"base"}}},
    {"data":{"name":"notes"},"transform":[{"filter":"datum.p==='H'"}],"mark":{"type":"text","fontSize":27,"color":"#231f20","baseline":"middle"},"encoding":{"x":{"field":"f","type":"quantitative","axis":null},"y":{"field":"db","type":"quantitative","axis":null},"text":{"field":"txt"}}},
    {"data":{"name":"shift"},"transform":[{"filter":"datum.p==='H'"}],"mark":{"type":"point","shape":"triangle-down","filled":true,"size":650,"color":"#231f20","opacity":1},"encoding":{"x":{"field":"f","type":"quantitative","axis":null},"y":{"field":"db","type":"quantitative","axis":null}}},
    {"data":{"name":"shift"},"transform":[{"filter":"datum.p==='H'"}],"mark":{"type":"text","fontSize":27,"color":"#231f20","align":"left","baseline":"middle"},"encoding":{"x":{"field":"tf","type":"quantitative","axis":null},"y":{"field":"db","type":"quantitative","axis":null},"text":{"field":"txt"}}}
   ],
   "resolve":{"axis":{"x":"independent","y":"independent"}}}
]
}
